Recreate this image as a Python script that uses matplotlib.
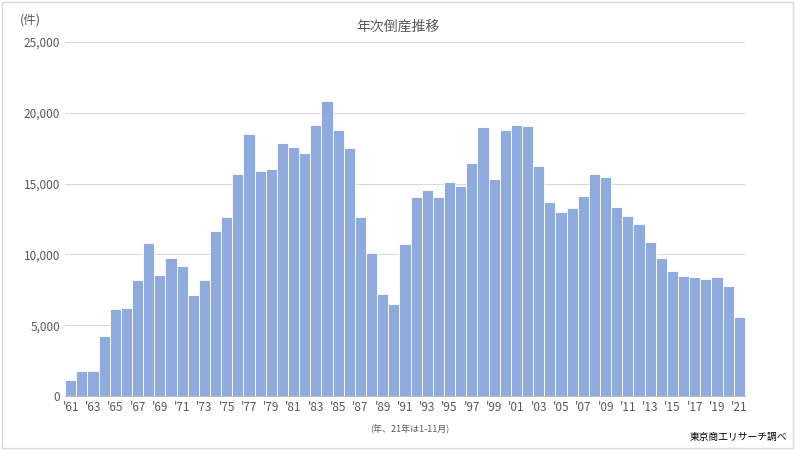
import matplotlib
matplotlib.use("Agg")
import matplotlib.pyplot as plt
from matplotlib.patches import Rectangle

plt.rcParams['font.family'] = ['Noto Sans CJK JP', 'DejaVu Sans']

years = list(range(1961, 2022))
values = [1100, 1780, 1740, 4210, 6140, 6190, 8190, 10780, 8520, 9770,
          9210, 7140, 8200, 11680, 12610, 15640, 18470, 15880, 16030, 17880,
          17610, 17120, 19160, 20840, 18810, 17480, 12660, 10120, 7230, 6470,
          10720, 14070, 14560, 14060, 15110, 14830, 16460, 18990, 15350, 18770,
          19160, 19090, 16260, 13680, 12990, 13240, 14090, 15650, 15480, 13320,
          12730, 12120, 10860, 9730, 8810, 8450, 8400, 8240, 8380, 7770, 5560]
tick_years = years[::2]
tick_labels = ["'%02d" % (y % 100) for y in tick_years]

fig = plt.figure(figsize=(7.95, 4.5), dpi=100)
fig.patches.append(Rectangle((0.003, 0.005), 0.994, 0.99, transform=fig.transFigure,
                             fill=False, edgecolor='#d9d9d9', linewidth=1))
ax = fig.add_axes([0.082, 0.12, 0.855, 0.787])
ax.bar(years, values, width=1.0, color='#8faadc', edgecolor='white', linewidth=0.6)
ax.set_xlim(1960.5, 2021.5)
ax.set_ylim(0, 25000)
ax.set_yticks(range(0, 25001, 5000))
ax.set_yticklabels([f"{v:,}" for v in range(0, 25001, 5000)], fontsize=8.5, color='#595959')
ax.set_xticks(tick_years)
ax.set_xticklabels(tick_labels, fontsize=8.5, color='#595959')
ax.tick_params(length=0)
ax.grid(axis='y', color='#d9d9d9', linewidth=0.8)
ax.set_axisbelow(True)
for s in ['top', 'right', 'left']:
    ax.spines[s].set_visible(False)
ax.spines['bottom'].set_color('#bfbfbf')

fig.text(0.5, 0.94, '年次倒産推移', ha='center', va='center', fontsize=10, color='#595959')
fig.text(0.025, 0.955, '(件)', ha='left', va='center', fontsize=9, color='#595959')
fig.text(0.515, 0.045, '(年、21年は1-11月)', ha='center', va='center', fontsize=6.5, color='#595959')
fig.text(0.99, 0.03, '東京商工リサーチ調べ', ha='right', va='center', fontsize=7, color='#000000')

fig.savefig('out.png', dpi=100)
